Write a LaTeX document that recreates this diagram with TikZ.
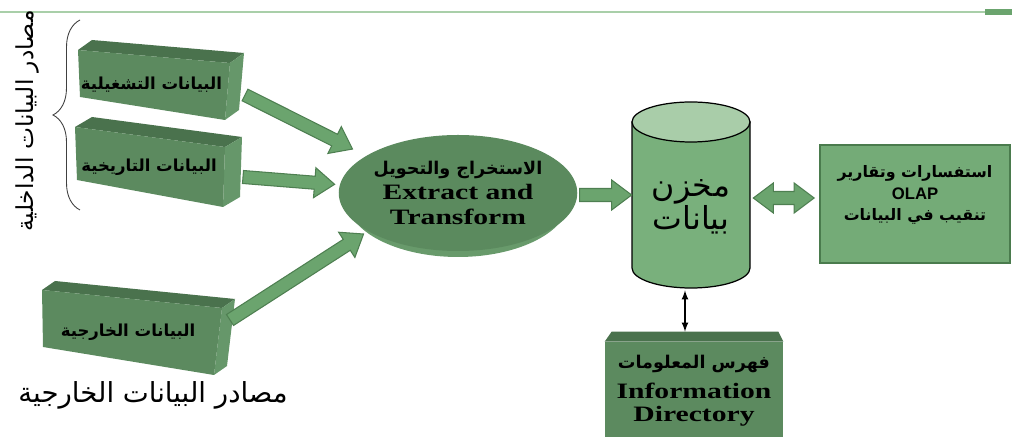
\documentclass[tikz,border=0pt]{standalone}
\usepackage{fontspec}
\usetikzlibrary{calc,shapes.geometric,decorations.pathreplacing}
\TeXXeTstate=1
\newfontfamily\arabicfont[Script=Arabic]{DejaVu Sans}
\newfontfamily\serifwide[FakeStretch=1.35]{Liberation Serif}
\newfontfamily\sanslat{Liberation Sans}

\definecolor{boxfront}{HTML}{5C8A5F}
\definecolor{boxtop}{HTML}{4A724D}
\definecolor{boxside}{HTML}{66976A}
\definecolor{arrfill}{HTML}{6BA46E}
\definecolor{arrline}{HTML}{4E7F51}
\definecolor{ellfill}{HTML}{5B8A5E}
\definecolor{ellrim}{HTML}{689A6B}
\definecolor{cylbody}{HTML}{79B07C}
\definecolor{cyltop}{HTML}{A9CDA9}
\definecolor{olapfill}{HTML}{74AB77}
\definecolor{olapline}{HTML}{4A7B4D}
\definecolor{rulegreen}{HTML}{A9CFA9}

\newcommand{\shaftw}{1.3mm}
\newcommand{\headw}{3mm}
\newcommand{\headl}{4mm}

% source box: name, front corners tl tr br bl, depth, label, arrow tail
\newcommand{\srcbox}[8]{%
  \coordinate (#1-a) at #2; \coordinate (#1-b) at #3;
  \coordinate (#1-c) at #4; \coordinate (#1-d) at #5;
  \fill[boxtop] (#1-a) -- ($(#1-a)+#6$) -- ($(#1-b)+#6$) -- (#1-b) -- cycle;
  \fill[boxside] (#1-b) -- ($(#1-b)+#6$) -- ($(#1-c)+#6$) -- (#1-c) -- cycle;
  \fill[boxfront] (#1-a) -- (#1-b) -- (#1-c) -- (#1-d) -- cycle;
  \node[boxlabel] (#1) at ($(#1-a)!.5!(#1-c)$) {#7};
  \coordinate (#1-out) at #8;
}

% fat arrow from #1 to #2
\newcommand{\blockarrow}[2]{%
  \path (#1) coordinate (ba-s) (#2) coordinate (ba-e);
  \path ($(ba-e)!\headl!(ba-s)$) coordinate (ba-h);
  \draw[blockarr] ($(ba-s)!\shaftw!90:(ba-e)$) -- ($(ba-h)!\shaftw!90:(ba-e)$)
    -- ($(ba-h)!\headw!90:(ba-e)$) -- (ba-e) -- ($(ba-h)!\headw!-90:(ba-e)$)
    -- ($(ba-h)!\shaftw!-90:(ba-e)$) -- ($(ba-s)!\shaftw!-90:(ba-e)$) -- cycle;
}

% fat arrow with two heads
\newcommand{\dblarrow}[2]{%
  \path (#1) coordinate (da-s) (#2) coordinate (da-e);
  \path ($(da-s)!\headl!(da-e)$) coordinate (da-p) ($(da-e)!\headl!(da-s)$) coordinate (da-q);
  \draw[blockarr] (da-s) -- ($(da-p)!\headw!90:(da-e)$) -- ($(da-p)!\shaftw!90:(da-e)$)
    -- ($(da-q)!\shaftw!-90:(da-s)$) -- ($(da-q)!\headw!-90:(da-s)$) -- (da-e)
    -- ($(da-q)!\headw!90:(da-s)$) -- ($(da-q)!\shaftw!90:(da-s)$)
    -- ($(da-p)!\shaftw!-90:(da-e)$) -- ($(da-p)!\headw!-90:(da-e)$) -- cycle;
}

\begin{document}
\begin{tikzpicture}[x=0.2mm, y=-0.2mm,
  boxlabel/.style = {font=\arabicfont\bfseries\fontsize{9.4}{11}\selectfont},
  blockarr/.style = {fill=arrfill, draw=arrline, line width=0.6pt, line join=miter},
  arlarge/.style = {font=\arabicfont\fontsize{#1}{#1}\selectfont}]
        \useasboundingbox (0,0) rectangle (1012,437);

        \draw[rulegreen, line width=1.2pt] (0,12) -- (985,12);
        \fill[arrfill] (985,9) rectangle (1012,15);

        \node[arlarge=13.3, rotate=90] (intitle) at (27,121) {\beginR مصادر البيانات الداخلية\endR};
        \draw[decorate, decoration={brace, amplitude=5.4mm}, black!75, line width=0.5pt] (80,210) -- (80,20);

        \srcbox{ops}{(78,50)}{(230,63)}{(225,120)}{(80,97)}{(14,-10)}{\beginR البيانات التشغيلية\endR}{(245,95)}
        \srcbox{hist}{(75,127)}{(225,147)}{(223,207)}{(77,180)}{(17,-10)}{\beginR البيانات التاريخية\endR}{(243,177)}
        \srcbox{ext}{(42,290)}{(222,308)}{(214,375)}{(43,347)}{(13,-9)}{\beginR البيانات الخارجية\endR}{(230,320)}

        \node[arlarge=15.7] (extitle) at (153,395) {\beginR مصادر البيانات الخارجية\endR};

        % extract and transform
        \fill[ellrim] (458,199) ellipse [x radius=22.3mm, y radius=11.6mm];
        \node[ellipse, fill=ellfill, minimum width=44.6mm, minimum height=23.2mm, inner sep=0pt,
              align=center, font=\serifwide\bfseries\fontsize{12.5}{14.2}\selectfont] (et) at (458,193)
              {{\arabicfont\fontsize{10}{14.2}\selectfont\beginR الاستخراج والتحويل\endR}\\ Extract and\\ Transform};

        % warehouse
        \coordinate (dwc) at (691,195);
        \draw[fill=cylbody, line width=0.7pt] ($(dwc)+(-59,-73)$) -- ($(dwc)+(-59,73)$)
              arc[start angle=180, end angle=360, x radius=11.8mm, y radius=4mm] -- ($(dwc)+(59,-73)$) -- cycle;
        \draw[fill=cyltop, line width=0.7pt] ($(dwc)+(0,-73)$) ellipse [x radius=11.8mm, y radius=4mm];
        \node[minimum width=23.6mm, minimum height=37.2mm, inner sep=0pt] (dw) at (dwc) {};
        \node[arlarge=18, align=center] (dwtext) at ($(dw.center)+(0,12)$) {\beginR مخزن\endR\\ \beginR بيانات\endR};

        % olap
        \node[fill=olapfill, draw=olapline, line width=1pt, minimum width=38mm, minimum height=23.6mm] (olap) at (915,204) {};
        \node[align=center, font=\arabicfont\bfseries\fontsize{9}{12}\selectfont] (olaptext) at ($(olap.center)+(0,-9)$)
              {\beginR استفسارات وتقارير\endR\\ {\sanslat\bfseries\fontsize{9.5}{12}\selectfont OLAP}\\ \beginR تنقيب في البيانات\endR};

        % information directory
        \node[fill=boxfront, minimum width=35.6mm, minimum height=19mm, inner sep=0pt] (info) at (694,389.5) {};
        \fill[boxtop] (info.north west) -- ++(7,-10) -- ($(info.north east)+(-5,-10)$) -- (info.north east) -- cycle;
        \node[align=center, font=\serifwide\bfseries\fontsize{12.5}{13}\selectfont] (infotext) at (694,391)
              {{\arabicfont\fontsize{10}{13}\selectfont\beginR فهرس المعلومات\endR}\\[4pt] Information\\ Directory};

        % connectors
        \blockarrow{ops-out}{$(et.158)!3mm!(ops-out)$}
        \blockarrow{hist-out}{$(et.176)!1mm!(hist-out)$}
        \blockarrow{ext-out}{$(et.203)!1mm!(ext-out)$}
        \blockarrow{$(et.east)+(2,2)$}{dw.west}
        \dblarrow{$(dw.east)+(3,3)$}{$(olap.west)+(-5,-6)$}
        \draw[latex-latex, line width=0.8pt] ($(dw.south)+(-6,2)$) -- ($(info.north)+(-9,-10)$);
\end{tikzpicture}
\end{document}
